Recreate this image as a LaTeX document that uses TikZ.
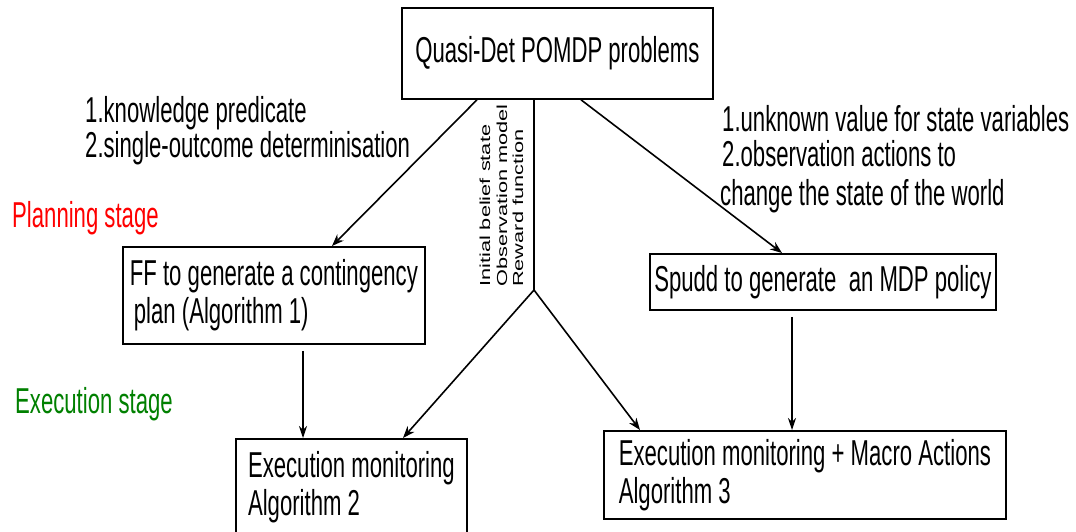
\documentclass[tikz,border=0pt]{standalone}
\usepackage{fontspec}
\usepackage{xcolor}
\usepackage{tikz}
\usetikzlibrary{arrows.meta}
\newfontfamily\figfont[FakeStretch=0.615]{Liberation Sans}
\newfontfamily\sidefont[FakeStretch=1.5]{Liberation Sans}
\definecolor{execgreen}{RGB}{0,128,0}
\tikzset{
  box/.style={draw,line width=1.8pt,inner sep=0pt,font=\figfont\fontsize{36}{38}\selectfont},
  lbl/.style={inner sep=0pt,anchor=base west,font=\figfont\fontsize{36}{38}\selectfont},
  side/.style={inner sep=0pt,anchor=base west,rotate=90,font=\sidefont\fontsize{14.5}{17}\selectfont},
  arr/.style={line width=1.6pt,-{Stealth[length=12pt,width=9pt]}},
  thinarr/.style={line width=1.1pt,-{Stealth[length=12pt,width=8pt]},shorten <=6pt}
}

\begin{document}
\begin{tikzpicture}[x=1pt,y=-1pt]
    \useasboundingbox (0,0) rectangle (1076,531);
    \node[box,anchor=north west,minimum width=311,minimum height=91] (top) at (401,7) {Quasi-Det POMDP problems};
    \node[box,anchor=north west,minimum width=302,minimum height=97,align=left] (ff) at (122,246) {FF to generate a contingency\\\hspace*{4pt}plan (Algorithm 1)};
    \node[box,anchor=north west,minimum width=346,minimum height=56] (spudd) at (649,253) {Spudd to generate\ \ an MDP policy};
    \node[box,anchor=north west,minimum width=231,minimum height=96,align=left] (execA) at (235,438) {Execution monitoring\\Algorithm 2};
    \node[box,anchor=north west,minimum width=402,minimum height=88,align=left] (execB) at (603,430) {Execution monitoring + Macro Actions\\Algorithm 3};
    % stage labels
    \node[lbl,text=red] (plan) at (12,227) {Planning stage};
    \node[lbl,text=execgreen] (exec) at (15,413) {Execution stage};
    % edge labels
    \node[lbl] (know) at (85,122) {1.knowledge predicate};
    \node[lbl] (single) at (85,157) {2.single-outcome determinisation};
    \node[lbl] (unknown) at (722,131) {1.unknown value for state variables};
    \node[lbl] (obsact) at (722,166) {2.observation actions to};
    \node[lbl] (change) at (720,205) {change the state of the world};
    \node[side] (init) at (490,287) {Initial belief state};
    \node[side] (obsmod) at (507,287) {Observation model};
    \node[side] (reward) at (523,287) {Reward function};
    \coordinate (apex) at (534,290);
    \draw[arr] ([xshift=76]top.south west) -- ([xshift=210]ff.north west);
    \draw[arr] ([xshift=180]top.south west) -- ([xshift=133]spudd.north west);
    \draw[line width=1.6pt] ([xshift=133]top.south west) -- (apex);
    \draw[arr] (apex) -- ([xshift=168]execA.north west);
    \draw[arr] (apex) -- ([xshift=37]execB.north west);
    \draw[thinarr] ([xshift=181]ff.south west) -- ([xshift=181]ff.south west |- execA.north);
    \draw[thinarr] ([xshift=143]spudd.south west) -- ([xshift=143]spudd.south west |- execB.north);
  \end{tikzpicture}
\end{document}
